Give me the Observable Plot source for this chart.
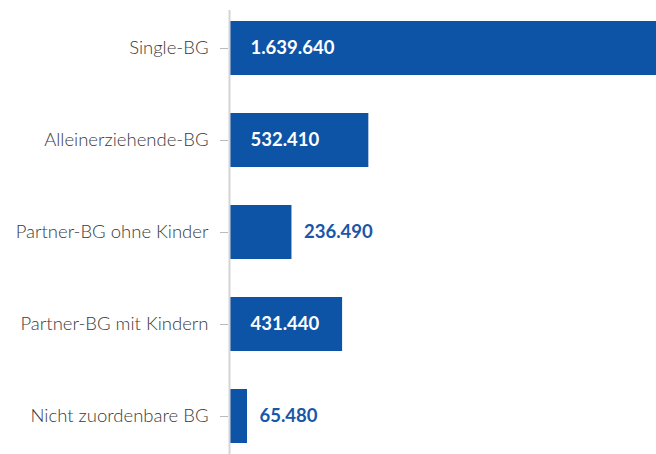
<!DOCTYPE html>
<html><head><meta charset="utf-8">
<script src="https://cdn.jsdelivr.net/npm/d3@7"></script>
<script src="https://cdn.jsdelivr.net/npm/@observablehq/plot@0.6"></script>
<style>body{margin:0;background:#fff}</style>
</head><body><div id="chart"></div>
<script>
const categories = ["Single-BG","Alleinerziehende-BG","Partner-BG ohne Kinder","Partner-BG mit Kindern","Nicht zuordenbare BG"];
const values = [1639640, 532410, 236490, 431440, 65480];

const data = categories.map((c,i)=>({cat:c, value:values[i]}));
const de = d3.formatLocale({decimal:",", thousands:".", grouping:[3], currency:["","€"]});
const fmt = de.format(",d");
const maxV = d3.max(values);
const inside = d => d.value > maxV*0.2;
const blue = "#0d53a6";

const chart = Plot.plot({
  width: 656, height: 454,
  marginLeft: 230, marginRight: 0, marginTop: 10, marginBottom: 0,
  style: {fontFamily: "Lato, sans-serif", background: "#fff"},
  x: {domain: [0, maxV], axis: null},
  y: {domain: categories, paddingInner: 0.408, paddingOuter: 0.0915, label: null},
  marks: [
    Plot.barX(data, {y: "cat", x: "value", fill: blue}),
    Plot.ruleX([0], {stroke: "#d4d4d4", strokeWidth: 2, dx: -1}),
    Plot.axisY({tickSize: 8, tickPadding: 12, fontSize: 18.5, fontWeight: 300, color: "#3a3a3a", stroke: "#bbb", dx: -2}),
    Plot.text(data.filter(inside), {y: "cat", x: 0, text: d => fmt(d.value), dx: 20, textAnchor: "start", fill: "white", fontWeight: "bold", fontSize: 18.5}),
    Plot.text(data.filter(d => !inside(d)), {y: "cat", x: "value", text: d => fmt(d.value), dx: 12, textAnchor: "start", fill: "#1a56a8", fontWeight: "bold", fontSize: 18.5})
  ]
});
document.getElementById("chart").appendChild(chart);
</script></body></html>
